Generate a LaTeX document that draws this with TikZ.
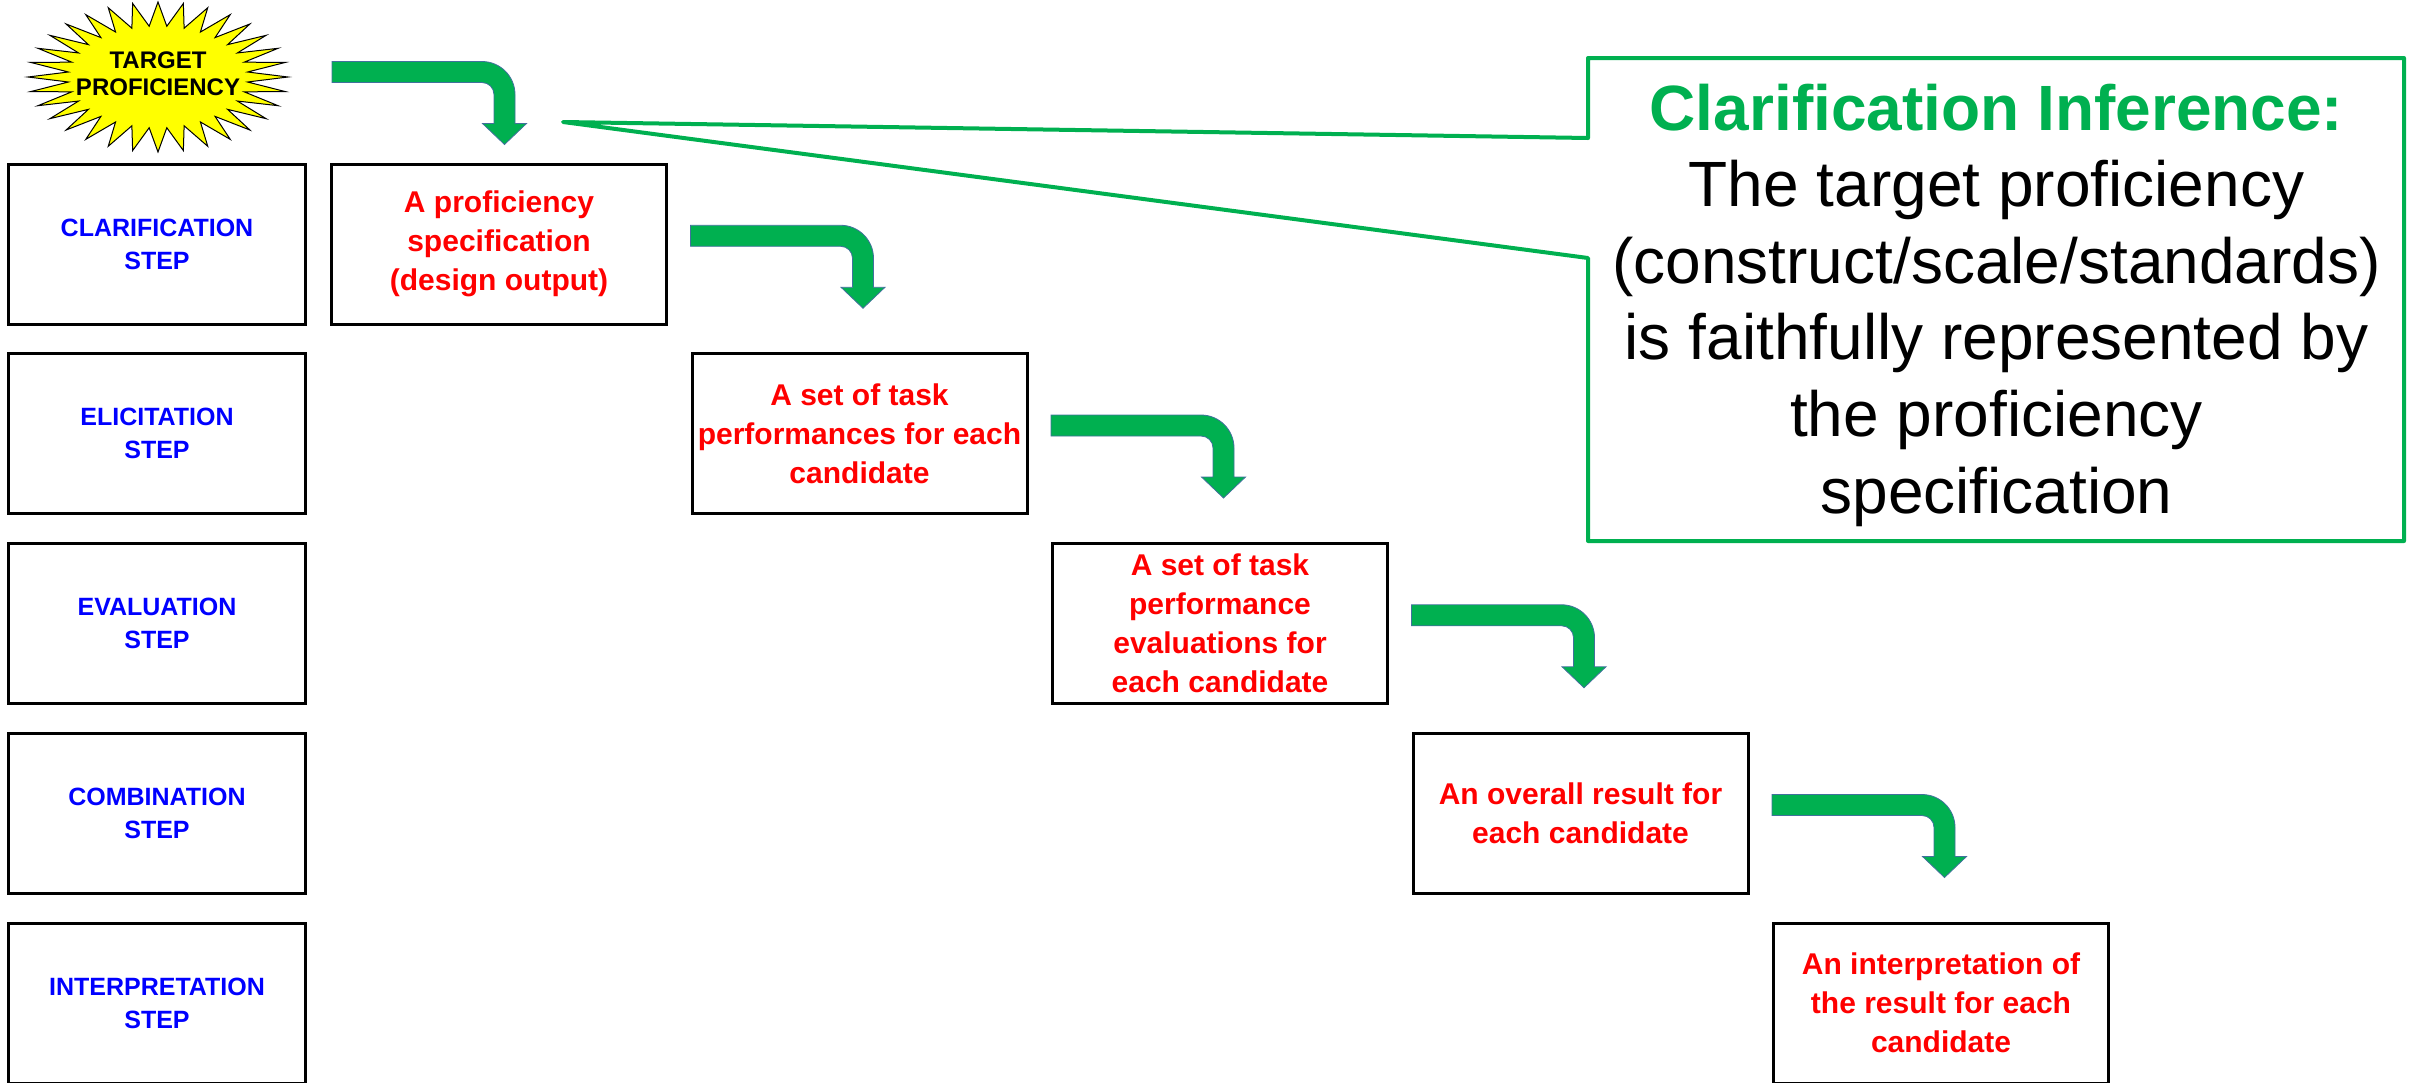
\documentclass[tikz,border=0pt]{standalone}
\usepackage{fontspec}
\setmainfont{Liberation Sans}
\usetikzlibrary{calc}

\definecolor{stepblue}{RGB}{0,0,255}
\definecolor{outred}{RGB}{255,0,0}
\definecolor{pptgreen}{RGB}{0,176,80}
\definecolor{arrowedge}{RGB}{65,113,156}
\definecolor{burstyellow}{RGB}{255,255,0}

\tikzset{
  stepbox/.style={draw, line width=1.5pt, minimum width=148.5pt, minimum height=80pt,
    inner sep=0pt, align=center, text=stepblue,
    font=\fontsize{12.5pt}{16.5pt}\selectfont\bfseries},
  outbox/.style={draw, line width=1.5pt, minimum width=167.5pt, minimum height=80pt,
    inner sep=0pt, align=center, text=outred,
    font=\fontsize{15pt}{19.5pt}\selectfont\bfseries},
  blockarrow/.style={fill=pptgreen, draw=arrowedge, line width=0.4pt, line join=miter},
  burst/.style={fill=burstyellow, draw=black, line width=0.5pt, line join=miter},
  bursttext/.style={align=center, inner sep=0pt,
    font=\fontsize{12pt}{13.5pt}\selectfont\bfseries},
  calloutframe/.style={inner sep=0pt, outer sep=0pt, minimum width=408pt, minimum height=241.5pt},
  calloutline/.style={draw=pptgreen, line width=2pt, fill=white, line join=round},
  callouttext/.style={align=center, inner sep=0pt,
    font=\fontsize{32pt}{38.3pt}\selectfont},
}

% bent block arrow hanging above a box: #1 box name, #2 offset of its top-left corner
\newcommand{\bentarrow}[2]{%
  \draw[blockarrow] ([shift={(#2)}]#1.north west) -- ++(150,0)
    arc[start angle=-90, end angle=0, radius=33] -- ++(0,29) -- ++(11.5,0)
    -- ++(-22,21) -- ++(-22,-21) -- ++(11.5,0) -- ++(0,-29)
    arc[start angle=0, end angle=-90, radius=12] -- ++(-150,0) -- cycle;}

\begin{document}
\begin{tikzpicture}[x=0.5pt, y=-0.5pt]
\useasboundingbox (0,0) rectangle (2418,1082);

% starburst
\draw[burst] plot[variable=\k, samples at={0,...,63}]
  ({158 + ifthenelse(mod(\k,2)==0,130,90)*cos(90+5.625*\k)},
   {77 - ifthenelse(mod(\k,2)==0,75,51)*sin(90+5.625*\k)}) -- cycle;
\node[bursttext] (target) at (158,74) {TARGET\\PROFICIENCY};

% step labels
\node[stepbox] (s1) at (157,244)     {CLARIFICATION\\STEP};
\node[stepbox] (s2) at (157,433.75)  {ELICITATION\\STEP};
\node[stepbox] (s3) at (157,623.5)   {EVALUATION\\STEP};
\node[stepbox] (s4) at (157,813.25)  {COMBINATION\\STEP};
\node[stepbox] (s5) at (157,1003)    {INTERPRETATION\\STEP};

% outputs of each step
\node[outbox] (o1) at (499,244)      {A proficiency\\specification\\(design output)};
\node[outbox] (o2) at (859.5,433.75) {A set of task\\performances for each\\candidate};
\node[outbox] (o3) at (1220,623.5)   {A set of task\\performance\\evaluations for\\each candidate};
\node[outbox] (o4) at (1580.5,813.25){An overall result for\\each candidate};
\node[outbox] (o5) at (1941,1003)    {An interpretation of\\the result for each\\candidate};

% bent arrows leading into each output
\bentarrow{o1}{2,-101}
\bentarrow{o2}{0,-127}
\bentarrow{o3}{0,-127}
\bentarrow{o4}{0,-127}
\bentarrow{o5}{0,-127}

% callout
\coordinate (ptr) at (563,122);
\node[calloutframe] (cbox) at (1996,299.5) {};
\draw[calloutline] (cbox.north west) -- (cbox.north east) -- (cbox.south east)
  -- (cbox.south west) -- ($(cbox.north west)+(0,200)$) -- (ptr)
  -- ($(cbox.north west)+(0,80)$) -- cycle;
\node[callouttext] (ctext) at (1996.5,305)
  {{\bfseries\color{pptgreen}Clarification Inference:}\\
   The target proficiency\\
   (construct/scale/standards)\\
   is faithfully represented by\\
   the proficiency\\
   specification};
\end{tikzpicture}
\end{document}
